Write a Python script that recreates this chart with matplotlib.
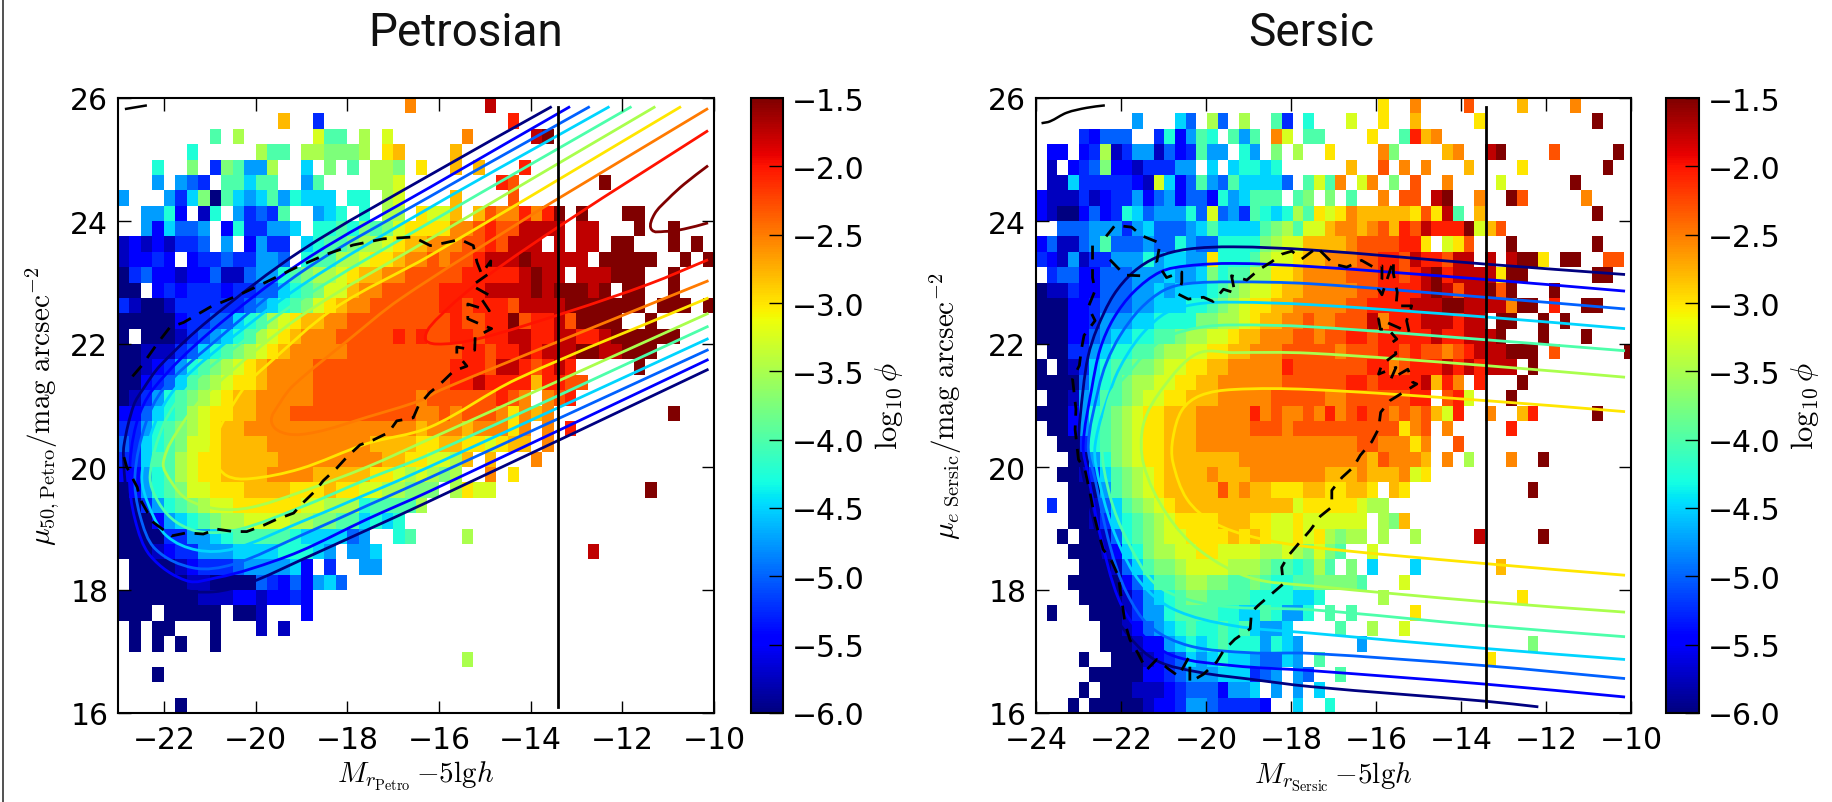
import matplotlib

matplotlib.use("Agg")
import matplotlib.pyplot as plt
import numpy as np
from matplotlib.lines import Line2D
from matplotlib.patches import PathPatch
from matplotlib.path import Path

plt.rcParams["mathtext.fontset"] = "cm"
plt.rcParams["font.family"] = "DejaVu Sans"

level_chars = "0123456789abcdefghi"
level_values = [-6.0, -5.75, -5.5, -5.25, -5.0, -4.75, -4.5, -4.25, -4.0, -3.75,
                -3.5, -3.25, -3.0, -2.8, -2.55, -2.3, -2.05, -1.75, -1.5]

petro_rows = [
    ".......... .......... .....e.... ..h....... .......... ..",
    ".......... ....d..3.. .......... ....g..... .......... ..",
    "........8. a......b88 .a.b...... e.....hi.. .......... ..",
    "......7... ..a88.aa99 9a.cd....d .......... .......... ..",
    "...7..9.39 855a..6.9. 8.aa9.c..d .d...g.... .......... ..",
    "...5.543.8 8688..58.. ..aab..... ...gf..... ..i....... ..",
    "5...536908 656857666. 77.ab....d ....f..... .......... ..",
    "..5572.17. 53438..567 .7.aa.cbbd .dfeegegi. i...ii.... ..",
    "..526445.2 733556.778 7989bcccce efgffhhhh. hh...i..i. ..",
    "12121334.5 .2533.6788 9aabcddeee ffgfhhh.h. hh.ii...i. i.",
    "12232.2334 33554.788a abccdeefef fghhhihhhh h.iiiii..i .i",
    "0342212241 1455789aab cddeefffff ggggghihh. hhhiii..i. ..",
    "00.2323332 33446789bb deefffffgg gghhhhihii ihi.ii..i. ..",
    "3100133333 3456789bcd eeffffffgg fgggfhhhhi iiiiii.iii .i",
    "0000023344 678abcddee fffffffffg ffggifgghf iiii..i... ..",
    "0.00013456 78abcdeeef ffffgfgffg gfgghhgghh gghiiiiii. ..",
    "0011134678 9abcdeeeee ffffffffff ggfgghghhh iihhiii... ..",
    "001235789a bcdeeeefff fffffffffg ggfhhgfghg .....i.... ..",
    "00234689ab ccdeeeefff fffffffffg ghggggdggf f......... ..",
    "0135789abc ddeeeeefff ffffffefff fffgfe.efg .......... ..",
    "224678abcc ddeeefffff ffffffeefe fffecede.. ........i. ..",
    "335789abcd deeeeeeeee eeeeeedeee deeece.e.g .......... ..",
    "436789bbcd dddeeeeeee eeddddccdd ccbcdd.e.. .......... ..",
    "33688abccd ddddeeeeee eeeddccbba d.d...e... .......... ..",
    "22578abccd dddeeeeddd ddccbaba9a ..e.c..... .......... ..",
    "025789bbcc cddddcccdc cbbaa999.a cbb....... ......i... ..",
    "0035789abb ccccccbbaa a78888a... .......... .......... ..",
    "000256789a abbbbaa998 86767..... .......... .......... ..",
    "0000335567 8888876666 45..78.... a......... .......... ..",
    "0001233555 666677765. 556....... .......... .h........ ..",
    ".000012333 4555562.3. .55....... .......... .......... ..",
    ".000001100 0043242564 .......... .......... .......... ..",
    "0000000111 2212232... .......... .......... .......... ..",
    "000.00000. 001...2... .......... .......... .......... ..",
    ".0.00...0. ..1.1..... .......... .......... .......... ..",
    ".0.0.0..0. .......... .......... .......... .......... ..",
    ".......... .......... .......... a......... .......... ..",
    "...0...... .......... .......... .......... .......... ..",
    ".......... .......... .......... .......... .......... ..",
    ".....0.... .......... .......... .......... .......... ..",
]

sersic_rows = [
    ".......... .......... .......... ..c..e.... f....d.... e.....",
    ".........5 ...64.a4.a ..83.7...b ..c..d.... .c........ ..i...",
    "....32444. .372587.85 8.eb.88... .c..8gde.. .......... ......",
    ".22.23a135 51423855.7 5.9.a..c.. ..e9....de ..hi....f. ....i.",
    ".1.2349221 33355.6.67 767......d ..f.e.e... d....c.... ...i..",
    ".116333332 1b62485486 6664.8b8e. be.9.f..e. ...b...... i.....",
    "2111312335 2452442756 888.89.9.8 ..e.ff.hi. .e..if.... .e....",
    "2100242376 455574b453 8767a8cbce dddddcfch8 .d........ ..i...",
    "..44455535 6444568666 689a8bbdee defdgfhggg ibdf...... ......",
    "2411458444 5447544777 79abbdddde ffffggc.bc f...i..... ..i...",
    "3215133555 756655c777 8abbcddeee ffggfhggfh h.h.hiic.i i..ff.",
    ".344224445 5565569788 aaccdeeeef ffggfghigh hhhcii.... ..ii..",
    "0113224445 565666789a bbcddeeeee ffgggghihf hhifi...i. ......",
    "0002234445 56667789ab ccddeeeeef fgggghhhii hhhheii.g. .ii...",
    "0002235556 6777799aab cddeefeeff fheggghhhg hh.ii..i.i ......",
    "0002245667 7889aabbcd deeeffeffg gfggggghgg hhhi...i.. .i....",
    ".003356778 89aabbccdd eeefffffef ffggfgffef ghhhiii.f. .....i",
    "0.01367889 9abbccddee eeegffffff fggefggghg hghhh.i... ......",
    "000046789a abbccddeee eeeffffffg gfgggghdge .g...i.... ......",
    ".00156889a bbccdddeee eefffffeef fffffgg.fg b...i..... ......",
    "00025789ab ccdddeeeee gefeefegef gffefefdbg ..e..dg... ..i...",
    ".0025789ab ccdddeeeee fffeffffff ffffcef.e. ....g..... ......",
    "..003789ab ccdddeeeee eeeeeeeeee ffeeece..f .......... ......",
    "...00579ab ccddddddde eeeeeeeeee edfeeed.e. a...e..i.. ......",
    "..0013689a bcddddeddd eeeeeeeddd edddebc... .......... ......",
    "...000589a bcdddddfde ddcccddccd dc.dc..... ......i... ......",
    ".3.0014689 abcddddddd ddddbccccc baa....... .......... ......",
    "...0013678 9abccccddd ccbbcbbbbb b.a9d..... .......... ......",
    "..0.001478 9abbccccdc dcbbcbca9a a.a..a.... .h.....i.. ......",
    "...0001267 9aabbccbbb baaba9b98. .b........ .......... ......",
    "....000146 899abbbbaa a98878a8.9 .6...6.... ...d...... ......",
    "...0000024 6889aa9988 9877889999 8...b..... .......... ......",
    "....000013 5678998888 7777667... ..a....... .....c.... ......",
    ".0...00013 5578888776 687557.8.8 .....c.... .......... ......",
    "......0012 4567877878 6556....8. .a..b..... .......... ......",
    "......0001 2256767877 75765..... 5......... ......9... ......",
    "....0..000 1234656766 54465.8... .......... ..c....... ......",
    ".....00000 2234555666 345.54..8. .......... .......... ......",
    "....0.0001 1123444255 6.5.5.6... .......... .......... ......",
    "...0.00000 1223554333 32..6..7.. .......... .......... ......",
]

# model contours, (M, mu)
contour_levels = [-6.0, -5.5, -5.0, -4.5, -4.0, -3.5, -3.0, -2.5, -2.0, -1.5]

petro_contours = [
    [(-13.54, 25.86), (-16.19, 24.75), (-19.0, 23.52), (-21.0, 22.4), (-22.08, 21.65), (-22.45, 21.27),
     (-22.66, 21.0), (-22.87, 20.35), (-22.87, 20.0), (-22.82, 19.6), (-22.66, 18.99), (-22.3, 18.39),
     (-21.72, 18.04), (-20.92, 17.97), (-20.12, 18.12), (-19.03, 18.48), (-16.19, 19.45), (-10.12, 21.59)],
    [(-13.14, 25.86), (-16.19, 24.55), (-19.0, 23.33), (-21.0, 22.19), (-22.23, 21.27), (-22.6, 20.7),
     (-22.75, 19.86), (-22.63, 19.15), (-22.3, 18.56), (-21.5, 18.15), (-20.85, 18.2), (-20.12, 18.34),
     (-19.03, 18.63), (-17.57, 19.15), (-16.19, 19.61), (-10.12, 21.75)],
    [(-12.71, 25.86), (-16.19, 24.4), (-19.0, 23.17), (-21.0, 21.97), (-22.01, 21.27), (-22.4, 20.7),
     (-22.63, 19.86), (-22.52, 19.21), (-22.19, 18.67), (-21.36, 18.36), (-20.48, 18.42), (-19.03, 18.88),
     (-17.57, 19.37), (-16.19, 19.83), (-10.12, 21.91)],
    [(-12.28, 25.86), (-16.19, 24.22), (-19.0, 22.95), (-21.0, 21.81), (-21.76, 21.27), (-22.2, 20.7),
     (-22.48, 19.86), (-22.3, 19.32), (-21.94, 18.88), (-21.28, 18.65), (-20.48, 18.67), (-19.03, 19.1),
     (-17.57, 19.56), (-16.19, 20.01), (-10.12, 22.09)],
    [(-11.8, 25.86), (-16.19, 23.98), (-19.0, 22.73), (-21.0, 21.62), (-21.5, 21.27), (-22.0, 20.7),
     (-22.3, 19.86), (-22.12, 19.43), (-21.72, 19.1), (-21.14, 18.94), (-20.34, 18.99), (-19.03, 19.34),
     (-17.57, 19.8), (-16.19, 20.21), (-10.12, 22.29)],
    [(-11.28, 25.86), (-16.19, 23.71), (-19.0, 22.46), (-20.96, 21.27), (-21.6, 20.7), (-22.01, 20.08),
     (-21.83, 19.75), (-21.5, 19.48), (-20.85, 19.32), (-20.12, 19.34), (-19.03, 19.59), (-17.57, 20.0),
     (-16.19, 20.46), (-10.12, 22.5)],
    [(-10.72, 25.86), (-16.19, 23.44), (-18.3, 22.57), (-19.76, 21.65), (-20.27, 21.27), (-20.96, 20.35),
     (-20.92, 20.13), (-20.63, 19.86), (-20.12, 19.81), (-19.03, 19.97), (-17.57, 20.38), (-16.19, 20.65),
     (-14.3, 21.43), (-10.12, 22.75)],
    [(-10.13, 25.83), (-13.72, 24.22), (-14.0, 24.09), (-16.85, 22.73), (-18.0, 22.05), (-19.17, 21.33),
     (-19.46, 21.05), (-19.65, 20.73), (-19.32, 20.54), (-18.67, 20.57), (-17.57, 20.81), (-16.41, 21.08),
     (-15.97, 21.25), (-13.43, 22.03), (-10.12, 23.03)],
    [(-10.13, 25.47), (-13.2, 24.0), (-15.03, 23.06), (-15.97, 22.46), (-16.3, 22.11), (-16.07, 22.0),
     (-15.17, 22.08), (-13.2, 22.52), (-11.4, 22.98), (-10.13, 23.37)],
    [(-10.13, 24.9), (-10.65, 24.6), (-11.0, 24.36), (-11.3, 24.11), (-11.37, 23.87), (-11.08, 23.83),
     (-10.65, 23.87), (-10.13, 23.97)],
]

sersic_contours = [
    [(-10.14, 23.13), (-13.44, 23.3), (-17.55, 23.53), (-19.36, 23.58), (-20.45, 23.54), (-21.16, 23.41),
     (-21.71, 23.17), (-22.18, 22.79), (-22.57, 22.24), (-22.77, 21.81), (-22.89, 21.27), (-23.0, 20.35),
     (-22.89, 19.86), (-22.57, 18.89), (-22.26, 17.77), (-21.79, 17.23), (-21.16, 16.85), (-20.14, 16.66),
     (-18.96, 16.55), (-17.55, 16.43), (-13.4, 16.19), (-12.18, 16.1)],
    [(-10.14, 22.86), (-13.44, 23.05), (-17.55, 23.26), (-19.36, 23.31), (-20.45, 23.27), (-21.08, 23.17),
     (-21.71, 22.84), (-22.18, 22.41), (-22.49, 21.92), (-22.69, 21.27), (-22.89, 20.35), (-22.77, 19.86),
     (-22.49, 18.89), (-22.06, 17.86), (-21.55, 17.31), (-20.77, 16.93), (-19.36, 16.77), (-17.55, 16.69),
     (-13.44, 16.47), (-10.14, 16.26)],
    [(-10.14, 22.57), (-13.44, 22.76), (-17.55, 22.98), (-19.36, 23.01), (-20.45, 22.98), (-21.0, 22.87),
     (-21.55, 22.57), (-22.02, 22.14), (-22.34, 21.7), (-22.53, 21.27), (-22.77, 20.35), (-22.61, 19.8),
     (-22.26, 18.72), (-21.87, 17.96), (-21.32, 17.41), (-20.38, 17.09), (-18.96, 16.98), (-17.55, 16.97),
     (-13.44, 16.77), (-10.14, 16.56)],
    [(-10.14, 22.25), (-13.44, 22.44), (-17.55, 22.64), (-19.36, 22.68), (-20.22, 22.65), (-20.93, 22.51),
     (-21.47, 22.19), (-21.87, 21.81), (-22.18, 21.38), (-22.61, 20.35), (-22.49, 19.7), (-22.1, 18.83),
     (-21.55, 18.13), (-20.77, 17.69), (-19.36, 17.42), (-17.55, 17.3), (-13.44, 17.05), (-10.14, 16.87)],
    [(-10.14, 21.89), (-13.44, 22.07), (-17.55, 22.28), (-19.36, 22.31), (-20.14, 22.27), (-20.93, 22.11),
     (-21.47, 21.81), (-21.87, 21.49), (-22.26, 21.16), (-22.45, 20.35), (-22.26, 19.53), (-21.87, 18.83),
     (-21.24, 18.13), (-20.45, 17.85), (-19.36, 17.72), (-17.55, 17.68), (-13.44, 17.42), (-10.14, 17.24)],
    [(-10.14, 21.46), (-13.44, 21.65), (-17.55, 21.85), (-19.36, 21.86), (-20.22, 21.84), (-21.0, 21.3),
     (-21.47, 20.7), (-21.47, 20.05), (-20.93, 19.24), (-20.14, 18.64), (-18.96, 18.2), (-17.55, 18.07),
     (-13.44, 17.81), (-10.14, 17.64)],
    [(-10.14, 20.9), (-13.44, 21.08), (-17.55, 21.26), (-19.36, 21.26), (-20.14, 21.16), (-20.57, 20.92),
     (-20.78, 20.46), (-20.78, 20.08), (-20.45, 19.48), (-19.83, 19.1), (-18.88, 18.86), (-17.55, 18.7),
     (-13.44, 18.43), (-10.14, 18.24)],
]

petro_dashed = [
    (-22.87, 20.16), (-22.81, 20.0), (-22.58, 19.67), (-22.52, 19.48), (-22.34, 19.24), (-22.23, 19.1),
    (-21.83, 18.88), (-21.5, 18.93), (-21.14, 18.91), (-20.85, 18.99), (-20.48, 18.95), (-20.19, 18.95),
    (-19.83, 19.05), (-19.54, 19.15), (-19.17, 19.25), (-18.99, 19.4), (-18.7, 19.61), (-18.52, 19.78),
    (-18.23, 19.98), (-18.01, 20.16), (-17.72, 20.36), (-17.43, 20.44), (-17.1, 20.56), (-16.92, 20.75),
    (-16.56, 20.8), (-16.45, 20.99), (-16.2, 21.21), (-15.97, 21.35), (-15.68, 21.56), (-15.39, 21.64),
    (-15.61, 21.84), (-15.61, 21.95), (-15.22, 21.9), (-15.21, 22.11), (-14.85, 22.25), (-15.03, 22.3),
    (-15.37, 22.41), (-15.37, 22.65), (-14.9, 22.54), (-15.07, 22.73), (-14.92, 22.8), (-15.28, 22.95),
    (-14.88, 23.16), (-14.87, 23.35), (-15.07, 23.14), (-15.17, 23.33), (-15.25, 23.6), (-15.54, 23.7),
    (-15.9, 23.64), (-16.19, 23.6), (-16.56, 23.74), (-17.21, 23.71), (-17.87, 23.61), (-18.45, 23.46),
    (-19.1, 23.25), (-19.76, 23.01), (-20.41, 22.78), (-20.99, 22.6), (-21.57, 22.35), (-21.87, 22.27),
    (-22.12, 22.03), (-22.48, 21.65), (-22.7, 21.46),
]

sersic_dashed = [
    (-22.67, 23.6), (-22.67, 23.38), (-22.67, 23.08), (-22.61, 22.87), (-22.77, 22.6), (-22.61, 22.38),
    (-22.87, 22.14), (-22.93, 21.92), (-22.98, 21.65), (-23.14, 21.43), (-23.06, 20.94), (-23.08, 20.61),
    (-23.0, 20.12), (-22.85, 19.96), (-22.73, 19.58), (-22.61, 19.15), (-22.53, 18.93), (-22.42, 18.66),
    (-22.22, 18.47), (-22.06, 18.22), (-22.02, 18.0), (-21.95, 17.68), (-21.91, 17.47), (-21.79, 17.19),
    (-21.6, 16.97), (-21.4, 16.7), (-21.16, 16.87), (-20.89, 16.72), (-20.65, 16.6), (-20.41, 16.9),
    (-20.38, 16.76), (-20.38, 16.5), (-20.06, 16.63), (-19.75, 16.83), (-19.59, 17.01), (-19.32, 17.2),
    (-18.96, 17.37), (-18.93, 17.64), (-18.77, 17.75), (-18.45, 17.94), (-18.18, 18.1), (-18.22, 18.37),
    (-18.06, 18.56), (-17.79, 18.78), (-17.55, 18.97), (-17.31, 19.2), (-17.04, 19.35), (-17.04, 19.62),
    (-16.8, 19.83), (-16.53, 20.0), (-16.37, 20.19), (-16.1, 20.41), (-15.94, 20.62), (-15.89, 20.89),
    (-15.67, 21.08), (-15.32, 21.23), (-15.04, 21.35), (-15.14, 21.38), (-15.25, 21.59), (-15.65, 21.43),
    (-15.53, 21.62), (-15.94, 21.51), (-15.86, 21.67), (-15.53, 21.84), (-15.61, 22.03), (-15.51, 22.08),
    (-15.71, 22.24), (-15.9, 22.24), (-15.94, 22.41), (-15.22, 22.19), (-15.28, 22.38), (-15.16, 22.62),
    (-15.53, 22.62), (-15.5, 22.84), (-15.59, 23.14), (-15.59, 23.36), (-15.86, 22.8), (-15.94, 22.89),
    (-15.86, 23.06), (-15.86, 23.27), (-16.06, 23.25), (-16.34, 23.36), (-16.69, 23.25), (-17.0, 23.3),
    (-17.39, 23.57), (-17.44, 23.54), (-17.75, 23.38), (-17.98, 23.51), (-18.22, 23.46), (-18.45, 23.34),
    (-18.77, 23.2), (-19.04, 23.04), (-19.4, 23.11), (-19.32, 22.83), (-19.59, 22.89), (-19.83, 22.69),
    (-20.06, 22.76), (-20.42, 22.73), (-20.65, 22.81), (-20.57, 23.0), (-20.57, 23.17), (-20.93, 23.08),
    (-21.16, 23.33), (-21.08, 23.64), (-21.51, 23.76), (-21.75, 23.9), (-22.14, 23.93), (-22.35, 23.75),
]
sersic_dashed_inner = [(-22.26, 23.37), (-21.91, 23.12), (-21.55, 23.11)]

petro_arc = [(-22.85, 25.82), (-22.37, 25.88)]
sersic_arc = [(-23.87, 25.59), (-23.67, 25.62), (-23.28, 25.76), (-22.81, 25.84), (-22.38, 25.88)]

limit_x = -13.41
limit_y = (16.1, 25.86)

x_ticks_petro = [-22, -20, -18, -16, -14, -12, -10]
x_ticks_sersic = [-24, -22, -20, -18, -16, -14, -12, -10]
y_ticks = [16, 18, 20, 22, 24, 26]
cbar_ticks = [-6.0, -5.5, -5.0, -4.5, -4.0, -3.5, -3.0, -2.5, -2.0, -1.5]

W, H = 1833, 803
TICK_SIZE = 21.5
LABEL_SIZE = 21


def decode(rows, ncols):
    lookup = dict(zip(level_chars, level_values))
    grid = np.full((len(rows), ncols), np.nan)
    for i, row in enumerate(rows):
        for j, ch in enumerate(row.replace(" ", "")[:ncols]):
            if ch != ".":
                grid[i, j] = lookup[ch]
    return np.ma.masked_invalid(grid)


def axes_px(left, right, top, bottom):
    return [left / W, (H - bottom) / H, (right - left) / W, (bottom - top) / H]


def smooth_path(pts):
    # bezier through the read points, so the bends are not angular
    p = np.array(pts)
    tang = np.zeros_like(p)
    tang[1:-1] = p[2:] - p[:-2]
    tang[0] = p[1] - p[0]
    tang[-1] = p[-1] - p[-2]
    tang /= np.linalg.norm(tang, axis=1, keepdims=True)
    verts = [p[0]]
    codes = [Path.MOVETO]
    for i in range(len(p) - 1):
        d = np.linalg.norm(p[i + 1] - p[i]) / 3
        verts += [p[i] + tang[i] * d, p[i + 1] - tang[i + 1] * d, p[i + 1]]
        codes += [Path.CURVE4] * 3
    return Path(verts, codes)


def draw_panel(fig, box, cbox, rows, ncols, x0, cell, xlim, xticks, contours, dashed, arc, xlabel, ylabel, ylab_x):
    ax = fig.add_axes(axes_px(*box))
    grid = decode(rows, ncols)
    xe = x0 + cell * np.arange(ncols + 1)
    ye = 26 - 0.25 * np.arange(len(rows) + 1)
    mesh = ax.pcolormesh(xe, ye, grid, cmap="jet", vmin=-6, vmax=-1.5, antialiased=False)

    for level, pts in zip(contour_levels, contours):
        ax.add_patch(PathPatch(smooth_path(pts), fc="none", ec=plt.cm.jet((level + 6) / 4.5), lw=2))

    xs, ys = zip(*dashed)
    ax.plot(xs, ys, color="k", lw=2, dashes=(5, 3.5))
    ax.add_patch(PathPatch(smooth_path(arc), fc="none", ec="k", lw=1.8))
    ax.plot([limit_x, limit_x], limit_y, color="k", lw=2)

    ax.set_xlim(*xlim)
    ax.set_ylim(16, 26)
    ax.set_xticks(xticks)
    ax.set_yticks(y_ticks)
    ax.tick_params(direction="in", length=9, width=1, top=True, right=True, labelsize=TICK_SIZE, pad=7)
    ax.tick_params(axis="x", pad=9)
    for s in ax.spines.values():
        s.set_linewidth(1.5)
    ax.set_xlabel(xlabel, fontsize=LABEL_SIZE, labelpad=3)
    fig.text(ylab_x / W, (H - (box[2] + box[3]) / 2) / H, ylabel, rotation=90, fontsize=LABEL_SIZE,
             ha="center", va="center")

    cax = fig.add_axes(axes_px(*cbox))
    cb = fig.colorbar(mesh, cax=cax)
    cb.set_ticks(cbar_ticks)
    cb.ax.tick_params(direction="in", length=10, width=1, labelsize=TICK_SIZE, pad=6)
    cb.outline.set_linewidth(1.5)
    cb.set_label(r"$\log_{10}\phi$", fontsize=22, labelpad=6)
    return ax


fig = plt.figure(figsize=(W / 100, H / 100), dpi=100)

draw_panel(fig, (118, 714, 99, 714), (751, 783, 99, 714), petro_rows, 52, -23, 0.25, (-23, -10),
           x_ticks_petro, petro_contours, petro_dashed, petro_arc,
           r"$M_{r_{\rm Petro}}\,{-}5{\rm lg}h$",
           r"$\mu_{50,{\rm Petro}}/{\rm mag\ arcsec}^{-2}$", 42)
draw_panel(fig, (1036, 1631, 99, 714), (1666, 1699, 99, 714), sersic_rows, 56, -24, 0.2515, (-24, -10),
           x_ticks_sersic, sersic_contours, sersic_dashed, sersic_arc,
           r"$M_{r_{\rm Sersic}}\,{-}5{\rm lg}h$",
           r"$\mu_{e\ {\rm Sersic}}/{\rm mag\ arcsec}^{-2}$", 946)

ax = fig.axes[2]
xs, ys = zip(*sersic_dashed_inner)
ax.plot(xs, ys, color="k", lw=2, dashes=(5, 3.5))

fig.text(466 / W, (H - 33) / H, "Petrosian", fontsize=33, family="Roboto", color="#111111", ha="center", va="center")
fig.text(1311 / W, (H - 33) / H, "Sersic", fontsize=33, family="Roboto", color="#111111", ha="center", va="center")

fig.add_artist(Line2D([2.5 / W, 2.5 / W], [0, 1], color="#333333", lw=1.2))

fig.savefig("out.png", dpi=100)
